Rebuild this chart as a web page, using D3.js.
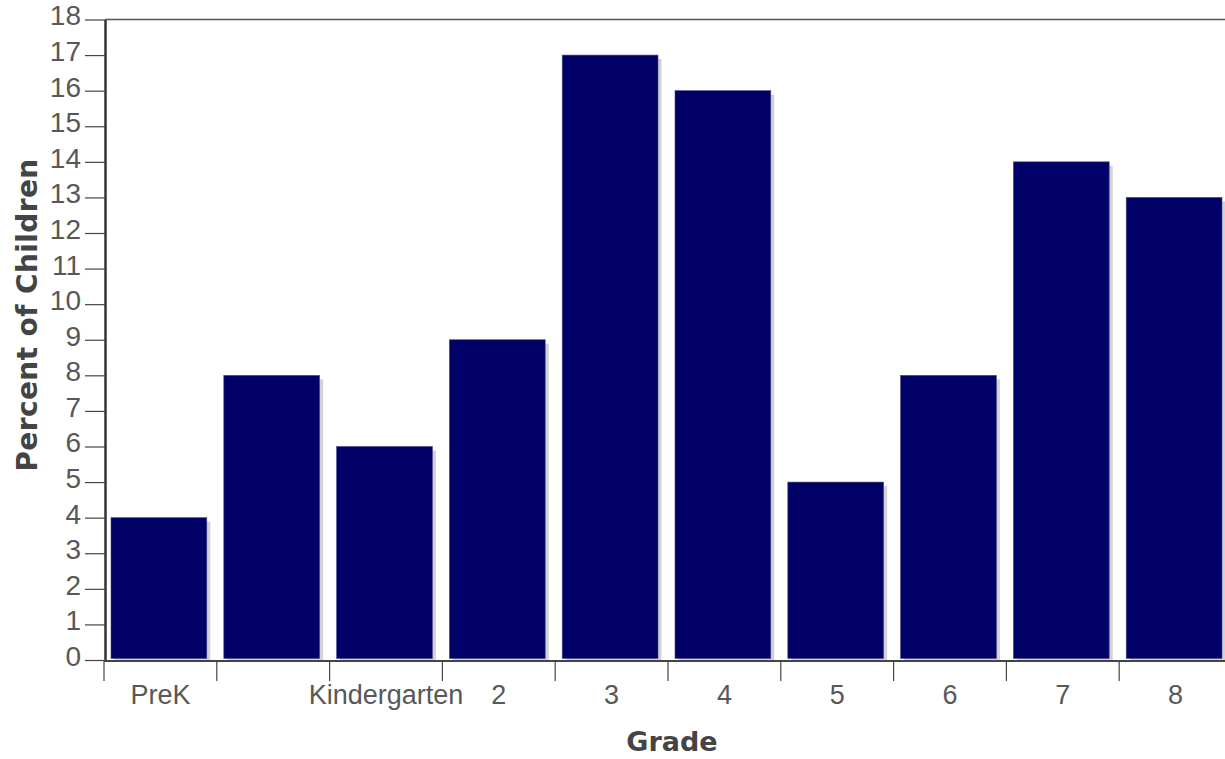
<!DOCTYPE html>
<html lang="en">
<head>
	<meta charset="utf-8">
	<title>Percent of Children by Grade</title>
	<script src="https://d3js.org/d3.v7.min.js"></script>
	<style type="text/css">
		body {
			margin: 0;
			background: #ffffff;
		}
		.axis text {
			font-family: "Liberation Sans", Arial, sans-serif;
			font-size: 27px;
			fill: #585858;
		}
		.y.axis text {
			font-size: 28px;
		}
		.axis-title {
			font-family: "DejaVu Sans", sans-serif;
			font-size: 27px;
			font-weight: bold;
			fill: #444444;
		}
	</style>
</head>
<body>
	<script type="text/javascript">

		// Data
		var gradeKeys = ["PreK", "G1", "Kindergarten", "2", "3", "4", "5", "6", "7", "8"];
		var gradeLabels = ["PreK", "", "Kindergarten", "2", "3", "4", "5", "6", "7", "8"];
		var percentValues = [4, 8, 6, 9, 17, 16, 5, 8, 14, 13];
		var yTickValues = d3.range(0, 19);

		var dataset = gradeKeys.map(function(k, i) {
			return {key: k, label: gradeLabels[i], value: percentValues[i]};
		});

		// Canvas size
		var width = 1225;
		var height = 759;
		var plot = {left: 105, top: 19.5, bottom: 660, right: 1232};

		var svg = d3.select("body")
					.append("svg")
					.attr("width", width)
					.attr("height", height);

		// Scales
		var xScale = d3.scaleBand()
						.domain(gradeKeys)
						.range([plot.left - 1, plot.right])
						.padding(0);

		var yScale = d3.scaleLinear()
						.domain([0, 18])
						.range([plot.bottom, plot.top]);

		var band = xScale.bandwidth();
		var barInset = 7;
		var barWidth = band - 17;

		// Top frame line
		svg.append("line")
			.attr("x1", plot.left)
			.attr("x2", width)
			.attr("y1", yScale(18))
			.attr("y2", yScale(18))
			.attr("stroke", "#555555")
			.attr("stroke-width", 1.5);

		// Bar shadows
		svg.selectAll("rect.shadow")
			.data(dataset, function(d) { return d.key; })
			.enter()
			.append("rect")
			.attr("class", "shadow")
			.attr("x", function(d) { return xScale(d.key) + barInset + 3.5; })
			.attr("y", function(d) { return yScale(d.value) + 4; })
			.attr("width", barWidth)
			.attr("height", function(d) { return plot.bottom - yScale(d.value) - 4; })
			.attr("fill", "#d2d2d2");

		// Bars
		svg.selectAll("rect.bar")
			.data(dataset, function(d) { return d.key; })
			.enter()
			.append("rect")
			.attr("class", "bar")
			.attr("x", function(d) { return xScale(d.key) + barInset; })
			.attr("y", function(d) { return yScale(d.value); })
			.attr("width", barWidth)
			.attr("height", function(d) { return plot.bottom - 1.5 - yScale(d.value); })
			.attr("fill", "#000066")
			.attr("stroke", "#4a4a8a")
			.attr("stroke-width", 0.6);

		// Y axis
		var yAxis = d3.axisLeft(yScale)
						.tickValues(yTickValues)
						.tickSize(20)
						.tickSizeOuter(0)
						.tickPadding(4);

		var yAxisG = svg.append("g")
			.attr("class", "y axis")
			.attr("transform", "translate(" + plot.left + ",0)")
			.call(yAxis);
		yAxisG.select(".domain")
			.attr("stroke", "#333333")
			.attr("stroke-width", 2.5);
		yAxisG.selectAll(".tick line")
			.attr("stroke", "#444444")
			.attr("stroke-width", 1.2);
		yAxisG.selectAll(".tick text")
			.attr("y", -3.5);

		// X axis line
		svg.append("line")
			.attr("x1", plot.left - 1)
			.attr("x2", width)
			.attr("y1", plot.bottom + 1)
			.attr("y2", plot.bottom + 1)
			.attr("stroke", "#444444")
			.attr("stroke-width", 2);

		// X axis ticks at the band edges
		svg.selectAll("line.xtick")
			.data(gradeKeys)
			.enter()
			.append("line")
			.attr("class", "xtick")
			.attr("x1", function(d) { return xScale(d); })
			.attr("x2", function(d) { return xScale(d); })
			.attr("y1", plot.bottom + 1)
			.attr("y2", plot.bottom + 21)
			.attr("stroke", "#444444")
			.attr("stroke-width", 1.2);

		// X axis labels
		svg.append("g")
			.attr("class", "axis")
			.selectAll("text")
			.data(dataset)
			.enter()
			.append("text")
			.attr("x", function(d) { return xScale(d.key) + band / 2; })
			.attr("y", 704)
			.attr("text-anchor", "middle")
			.text(function(d) { return d.label; });

		// Axis titles
		svg.append("text")
			.attr("class", "axis-title")
			.attr("x", 672)
			.attr("y", 751)
			.attr("text-anchor", "middle")
			.text("Grade");

		svg.append("text")
			.attr("class", "axis-title")
			.attr("transform", "translate(37,315) rotate(-90)")
			.attr("text-anchor", "middle")
			.style("font-size", "28px")
			.style("letter-spacing", "0.4px")
			.text("Percent of Children");

	</script>
</body>
</html>
